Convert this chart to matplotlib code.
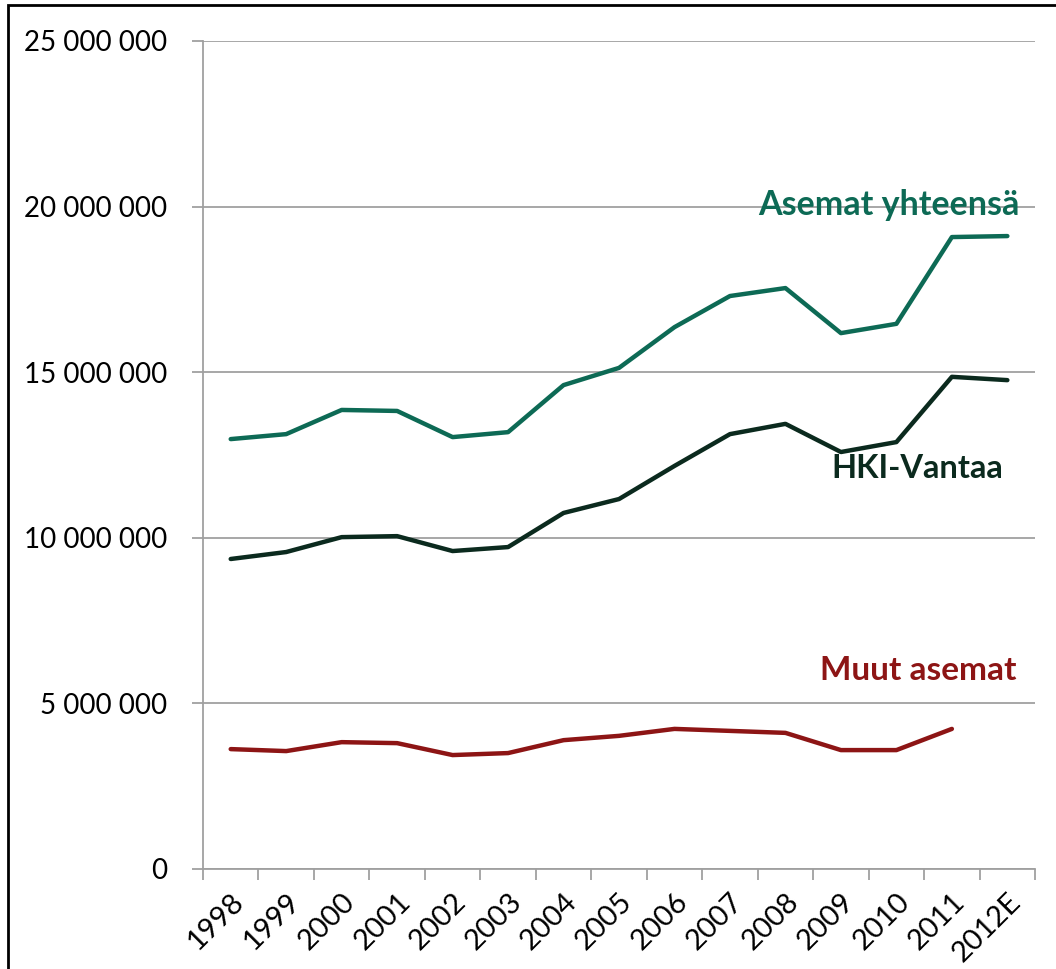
import matplotlib.pyplot as plt
from matplotlib.patches import Rectangle
from matplotlib.ticker import FuncFormatter

plt.rcParams['font.family'] = ['Lato', 'DejaVu Sans']

vuodet = ["1998", "1999", "2000", "2001", "2002", "2003", "2004", "2005",
          "2006", "2007", "2008", "2009", "2010", "2011", "2012E"]
asemat_yht = [12.98, 13.13, 13.86, 13.83, 13.04, 13.19, 14.61, 15.13,
              16.36, 17.30, 17.54, 16.18, 16.46, 19.08, 19.11]
hki_vantaa = [9.36, 9.57, 10.02, 10.05, 9.60, 9.72, 10.75, 11.17,
              12.17, 13.13, 13.44, 12.59, 12.89, 14.86, 14.76]
muut = [3.62, 3.56, 3.83, 3.80, 3.44, 3.50, 3.89, 4.02,
        4.23, 4.17, 4.11, 3.59, 3.59, 4.23]

c_yht = "#0d6a55"
c_hki = "#0b2a1e"
c_muut = "#8d1515"

fig = plt.figure(figsize=(10.56, 9.69), dpi=100)
ax = fig.add_axes([0.1922, 0.1032, 0.788, 0.8545])

x = list(range(len(vuodet)))
ax.plot(x, [v * 1e6 for v in asemat_yht], color=c_yht, lw=3.2, solid_capstyle='round')
ax.plot(x, [v * 1e6 for v in hki_vantaa], color=c_hki, lw=3.2, solid_capstyle='round')
ax.plot(x[:len(muut)], [v * 1e6 for v in muut], color=c_muut, lw=3.2, solid_capstyle='round')

ax.set_xlim(-0.5, len(vuodet) - 0.5)
ax.set_ylim(0, 25e6)
ax.set_yticks([0, 5e6, 10e6, 15e6, 20e6, 25e6])
ax.yaxis.set_major_formatter(FuncFormatter(lambda v, p: f"{int(v):,}".replace(",", " ")))
ax.set_xticks(x)
ax.set_xticklabels(vuodet, rotation=45, ha='right', rotation_mode='anchor')
ax.set_xticks([i - 0.5 for i in range(len(vuodet) + 1)], minor=True)
ax.tick_params(axis='x', which='major', length=0, labelsize=21, pad=14)
ax.tick_params(axis='x', which='minor', length=8, color='#a0a0a0', width=1.3)
ax.tick_params(axis='y', length=8, color='#a0a0a0', width=1.3, labelsize=20, pad=18)

ax.grid(axis='y', color='#a0a0a0', lw=1.3)
ax.set_axisbelow(True)
for s in ['top', 'right']:
    ax.spines[s].set_visible(False)
for s in ['left', 'bottom']:
    ax.spines[s].set_color('#a0a0a0')
    ax.spines[s].set_linewidth(1.3)

ax.text(1020, 969 - 205, "Asemat yhteensä", transform=None, color=c_yht, fontsize=24.5,
        fontweight='bold', ha='right', va='center')
ax.text(1003, 969 - 469, "HKI-Vantaa", transform=None, color=c_hki, fontsize=23.5,
        fontweight='bold', ha='right', va='center')
ax.text(1017, 969 - 671, "Muut asemat", transform=None, color=c_muut, fontsize=24,
        fontweight='bold', ha='right', va='center')

# reunaviiva
fig.patches.append(Rectangle((0.008, -0.01), 1.1, 0.995 + 0.01, transform=fig.transFigure,
                             fill=False, edgecolor='black', lw=2))

fig.savefig("out.png", dpi=100)
